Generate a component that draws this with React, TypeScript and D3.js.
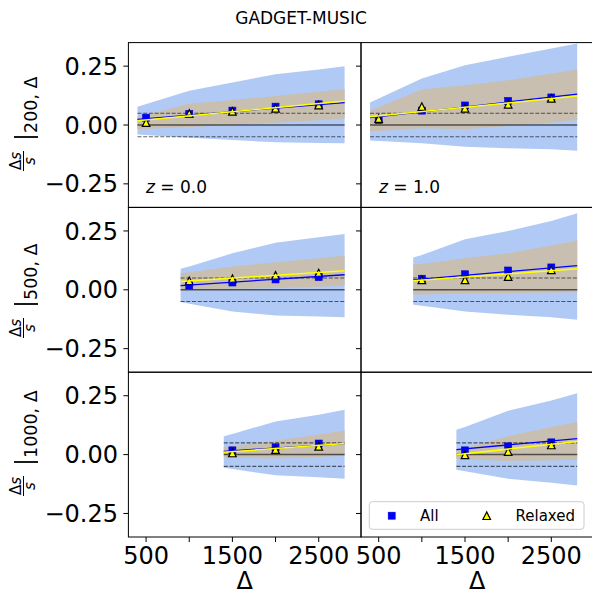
import React from 'react';
import * as d3 from 'd3';

const title = 'GADGET-MUSIC';
const redshiftLabels = ['0.0', '1.0'];
const radiusLabels = ['200', '500', '1000'];
const xTicks = [500, 1000, 1500, 2000, 2500];
const xTickLabels = ['500', '', '1500', '', '2500'];
const yTicks = [-0.25, 0, 0.25];
const yTickLabels = ['\u22120.25', '0.00', '0.25'];
const xDomain = [295, 2990];
const yDomain = [-0.35, 0.35];
const thresholds = [-0.05, 0.05];
const seriesNames = ['All', 'Relaxed'];

const bandX200 = [400, 1000, 1500, 2000, 2500, 2800];
const bandX500 = [900, 1000, 1500, 2000, 2500, 2800];
const bandX1000 = [1400, 1500, 2000, 2500, 2800];
const pointX200 = [500, 1000, 1500, 2000, 2500];
const pointX500 = [1000, 1500, 2000, 2500];
const pointX1000 = [1500, 2000, 2500];

// z = 0.0, R = 200
const outerHi_z0_200 = [0.078, 0.145, 0.181, 0.216, 0.236, 0.25];
const outerLo_z0_200 = [-0.04, -0.054, -0.064, -0.073, -0.076, -0.078];
const innerHi_z0_200 = [0.035, 0.09, 0.106, 0.123, 0.141, 0.153];
const innerLo_z0_200 = [-0.018, -0.008, 0.0, 0.01, 0.02, 0.028];
const all_z0_200 = [0.031, 0.047, 0.061, 0.078, 0.088];
const relaxed_z0_200 = [0.01, 0.049, 0.058, 0.071, 0.085];
const fitAll_z0_200 = [0.024, 0.095];
const fitRelaxed_z0_200 = [0.018, 0.102];

// z = 1.0, R = 200
const outerHi_z1_200 = [0.096, 0.198, 0.254, 0.29, 0.325, 0.346];
const outerLo_z1_200 = [-0.066, -0.078, -0.092, -0.099, -0.103, -0.109];
const innerHi_z1_200 = [0.06, 0.151, 0.169, 0.19, 0.219, 0.236];
const innerLo_z1_200 = [-0.028, -0.014, -0.018, -0.004, 0.01, 0.021];
const all_z1_200 = [0.021, 0.061, 0.083, 0.102, 0.117];
const relaxed_z1_200 = [0.027, 0.078, 0.071, 0.088, 0.113];
const fitAll_z1_200 = [0.031, 0.131];
const fitRelaxed_z1_200 = [0.035, 0.123];

// z = 0.0, R = 500
const outerHi_z0_500 = [0.089, 0.099, 0.155, 0.2, 0.223, 0.237];
const outerLo_z0_500 = [-0.052, -0.059, -0.092, -0.109, -0.113, -0.117];
const innerHi_z0_500 = [0.071, 0.073, 0.099, 0.117, 0.134, 0.145];
const innerLo_z0_500 = [-0.003, -0.002, 0.003, 0.008, 0.013, 0.017];
const all_z0_500 = [0.018, 0.031, 0.044, 0.054];
const relaxed_z0_500 = [0.038, 0.047, 0.061, 0.071];
const fitAll_z0_500 = [0.018, 0.064];
const fitRelaxed_z0_500 = [0.035, 0.081];

// z = 1.0, R = 500
const outerHi_z1_500 = [0.137, 0.148, 0.215, 0.25, 0.292, 0.325];
const outerLo_z1_500 = [-0.064, -0.068, -0.092, -0.106, -0.117, -0.127];
const innerHi_z1_500 = [0.109, 0.11, 0.134, 0.155, 0.188, 0.209];
const innerLo_z1_500 = [-0.021, -0.02, -0.016, -0.014, -0.012, -0.01];
const all_z1_500 = [0.047, 0.066, 0.082, 0.095];
const relaxed_z1_500 = [0.042, 0.042, 0.056, 0.085];
const fitAll_z1_500 = [0.042, 0.103];
const fitRelaxed_z1_500 = [0.038, 0.089];

// z = 0.0, R = 1000
const outerHi_z0_1000 = [0.078, 0.088, 0.141, 0.169, 0.191];
const outerLo_z0_1000 = [-0.056, -0.061, -0.088, -0.096, -0.103];
const innerHi_z0_1000 = [0.032, 0.035, 0.059, 0.085, 0.102];
const innerLo_z0_1000 = [-0.012, -0.013, -0.017, -0.01, -0.005];
const all_z0_1000 = [0.018, 0.031, 0.047];
const relaxed_z0_1000 = [0.007, 0.021, 0.035];
const fitAll_z0_1000 = [0.014, 0.047];
const fitRelaxed_z0_1000 = [0.01, 0.047];

// z = 1.0, R = 1000
const outerHi_z1_1000 = [0.106, 0.117, 0.186, 0.23, 0.261];
const outerLo_z1_1000 = [-0.064, -0.071, -0.103, -0.12, -0.131];
const innerHi_z1_1000 = [0.021, 0.028, 0.078, 0.117, 0.138];
const innerLo_z1_1000 = [-0.018, -0.02, -0.027, -0.025, -0.022];
const all_z1_1000 = [0.018, 0.035, 0.052];
const relaxed_z1_1000 = [-0.001, 0.013, 0.041];
const fitAll_z1_1000 = [0.021, 0.068];
const fitRelaxed_z1_1000 = [-0.001, 0.056];

type Panel = {
  row: number; col: number; bandX: number[]; pointX: number[];
  outerHi: number[]; outerLo: number[]; innerHi: number[]; innerLo: number[];
  all: number[]; relaxed: number[]; fitAll: number[]; fitRelaxed: number[];
};

const panels: Panel[] = [
  { row: 0, col: 0, bandX: bandX200, pointX: pointX200, outerHi: outerHi_z0_200, outerLo: outerLo_z0_200, innerHi: innerHi_z0_200, innerLo: innerLo_z0_200, all: all_z0_200, relaxed: relaxed_z0_200, fitAll: fitAll_z0_200, fitRelaxed: fitRelaxed_z0_200 },
  { row: 0, col: 1, bandX: bandX200, pointX: pointX200, outerHi: outerHi_z1_200, outerLo: outerLo_z1_200, innerHi: innerHi_z1_200, innerLo: innerLo_z1_200, all: all_z1_200, relaxed: relaxed_z1_200, fitAll: fitAll_z1_200, fitRelaxed: fitRelaxed_z1_200 },
  { row: 1, col: 0, bandX: bandX500, pointX: pointX500, outerHi: outerHi_z0_500, outerLo: outerLo_z0_500, innerHi: innerHi_z0_500, innerLo: innerLo_z0_500, all: all_z0_500, relaxed: relaxed_z0_500, fitAll: fitAll_z0_500, fitRelaxed: fitRelaxed_z0_500 },
  { row: 1, col: 1, bandX: bandX500, pointX: pointX500, outerHi: outerHi_z1_500, outerLo: outerLo_z1_500, innerHi: innerHi_z1_500, innerLo: innerLo_z1_500, all: all_z1_500, relaxed: relaxed_z1_500, fitAll: fitAll_z1_500, fitRelaxed: fitRelaxed_z1_500 },
  { row: 2, col: 0, bandX: bandX1000, pointX: pointX1000, outerHi: outerHi_z0_1000, outerLo: outerLo_z0_1000, innerHi: innerHi_z0_1000, innerLo: innerLo_z0_1000, all: all_z0_1000, relaxed: relaxed_z0_1000, fitAll: fitAll_z0_1000, fitRelaxed: fitRelaxed_z0_1000 },
  { row: 2, col: 1, bandX: bandX1000, pointX: pointX1000, outerHi: outerHi_z1_1000, outerLo: outerLo_z1_1000, innerHi: innerHi_z1_1000, innerLo: innerLo_z1_1000, all: all_z1_1000, relaxed: relaxed_z1_1000, fitAll: fitAll_z1_1000, fitRelaxed: fitRelaxed_z1_1000 },
];

const W = 592, H = 593;
const LEFT = 128.4, COLW = 232.6, TOP = 42.6, ROWH = 164.8;
const FONT = 'DejaVu Sans, sans-serif';
const BLUE_BAND = '#b1caf5';
const TAN_BAND = '#c8bfb1';
const labelStarts = [172, 339, 497];

const tri = (cx: number, cy: number, r: number) =>
  `M${cx},${cy - r}L${cx - r},${cy + r}L${cx + r},${cy + r}Z`;

function PanelView({ p }: { p: Panel }) {
  const gx = LEFT + p.col * COLW;
  const gy = TOP + p.row * ROWH;
  const x = d3.scaleLinear().domain(xDomain).range([gx, gx + COLW]);
  const y = d3.scaleLinear().domain(yDomain).range([gy + ROWH, gy]);
  const idx = p.bandX.map((_, i) => i);
  const outer = d3.area<number>().x(i => x(p.bandX[i])).y0(i => y(p.outerLo[i])).y1(i => y(p.outerHi[i]))(idx) || '';
  const inner = d3.area<number>().x(i => x(p.bandX[i])).y0(i => y(p.innerLo[i])).y1(i => y(p.innerHi[i]))(idx) || '';
  const x0 = p.bandX[0], x1 = p.bandX[p.bandX.length - 1];
  const line = d3.line<number>().x((_, i) => x(i === 0 ? x0 : x1)).y(v => y(v));
  return (
    <g>
      <path d={outer} fill={BLUE_BAND} />
      <path d={inner} fill={TAN_BAND} />
      <line x1={x(x0)} x2={x(x1)} y1={y(0)} y2={y(0)} stroke="#000" strokeOpacity={0.6} strokeWidth={1.5} />
      {thresholds.map(t => (
        <line key={t} x1={x(x0)} x2={x(x1)} y1={y(t)} y2={y(t)} stroke="#000" strokeOpacity={0.6} strokeWidth={1.1} strokeDasharray="4,1.7" />
      ))}
      {p.all.map((v, i) => (
        <rect key={'a' + i} x={x(p.pointX[i]) - 3.5} y={y(v) - 3.5} width={7} height={7} fill="#0000ff" stroke="#0000cc" strokeWidth={0.6} />
      ))}
      {p.relaxed.map((v, i) => (
        <path key={'r' + i} d={tri(x(p.pointX[i]), y(v), 3.8)} fill="#ffff00" stroke="#000" strokeWidth={1.2} />
      ))}
      <path d={line(p.fitAll) || ''} stroke="#0000ff" strokeWidth={1.3} fill="none" />
      <path d={line(p.fitRelaxed) || ''} stroke="#ffff00" strokeWidth={1.5} fill="none" />
      {yTicks.map(t => (
        <line key={'yt' + t} x1={gx - 5} x2={gx} y1={y(t)} y2={y(t)} stroke="#000" strokeWidth={1} />
      ))}
      {p.col === 0 && yTicks.map((t, i) => (
        <text key={'yl' + t} x={118} y={y(t) + 8.6} textAnchor="end" fontSize={24} fontFamily={FONT} fill="#000">{yTickLabels[i]}</text>
      ))}
      {p.row === 2 && xTicks.map(t => (
        <line key={'xt' + t} x1={x(t)} x2={x(t)} y1={gy + ROWH} y2={gy + ROWH + 5} stroke="#000" strokeWidth={1} />
      ))}
      {p.row === 2 && xTicks.map((t, i) => (
        <text key={'xl' + t} x={x(t)} y={564} textAnchor="middle" fontSize={24} fontFamily={FONT} fill="#000">{xTickLabels[i]}</text>
      ))}
      {p.row === 2 && (
        <text x={gx + COLW / 2} y={588.5} textAnchor="middle" fontSize={24} fontFamily={FONT} fill="#000">Δ</text>
      )}
      {p.row === 0 && (
        <text x={p.col === 0 ? 146 : 379} y={193} fontSize={17} fontFamily={FONT} fill="#000">
          <tspan fontStyle="italic">z</tspan>{' = ' + redshiftLabels[p.col]}
        </text>
      )}
      <rect x={gx} y={gy} width={COLW} height={ROWH} fill="none" stroke="#000" strokeWidth={1} />
    </g>
  );
}

function YLabel({ row }: { row: number }) {
  const cx = 32;
  const sy = labelStarts[row];
  return (
    <g transform={`translate(${cx},${sy}) rotate(-90)`} fontFamily={FONT} fill="#000">
      <text x={11} y={-11} textAnchor="middle" fontSize={15}>Δ<tspan fontStyle="italic">s</tspan></text>
      <line x1={1} x2={21} y1={-8.5} y2={-8.5} stroke="#000" strokeWidth={1} />
      <text x={11} y={2.5} textAnchor="middle" fontSize={15} fontStyle="italic">s</text>
      <line x1={35} x2={35} y1={-18} y2={6} stroke="#000" strokeWidth={1.8} />
      <text x={39} y={5} fontSize={17.5}>{radiusLabels[row] + ', Δ'}</text>
    </g>
  );
}

function Legend() {
  return (
    <g fontFamily={FONT}>
      <rect x={369.3} y={501.7} width={214.7} height={27.6} rx={3} fill="#fff" fillOpacity={0.8} stroke="#cccccc" strokeWidth={1} />
      <rect x={388.2} y={512.2} width={7} height={7} fill="#0000ff" stroke="#0000cc" strokeWidth={0.6} />
      <text x={420} y={520.7} fontSize={15} fill="#000">{seriesNames[0]}</text>
      <path d={tri(486.7, 515.7, 3.8)} fill="#ffff00" stroke="#000" strokeWidth={1.2} />
      <text x={515.5} y={520.7} fontSize={15} fill="#000">{seriesNames[1]}</text>
    </g>
  );
}

export default function App() {
  return (
    <svg width={W} height={H} style={{ position: 'absolute', left: 0, top: 0, background: '#fff' }}>
      <rect x={0} y={0} width={W} height={H} fill="#fff" />
      <text x={301} y={24.3} textAnchor="middle" fontSize={17} fontFamily={FONT} fill="#000">{title}</text>
      {panels.map((p, i) => <PanelView key={i} p={p} />)}
      {[0, 1, 2].map(r => <YLabel key={r} row={r} />)}
      <Legend />
    </svg>
  );
}
